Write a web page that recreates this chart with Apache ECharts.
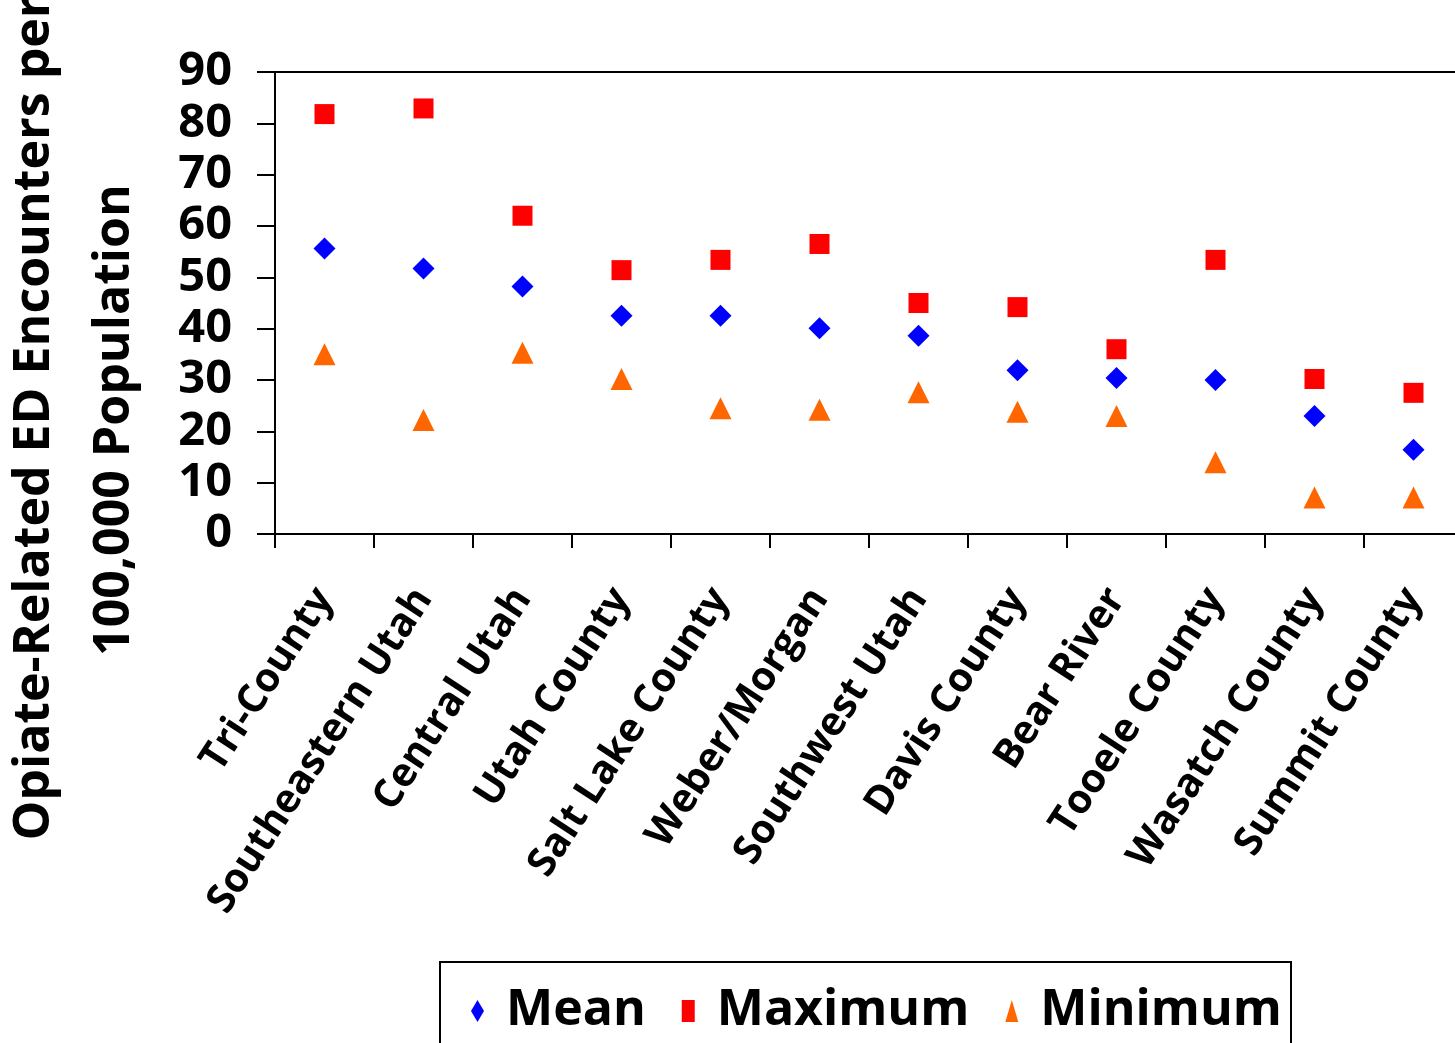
<!DOCTYPE html>
<html>
<head>
<meta charset="utf-8">
<script src="https://cdn.jsdelivr.net/npm/echarts@6/dist/echarts.min.js"></script>
<style>
    html, body { margin: 0; padding: 0; background: #ffffff; }
    #chart { width: 1455px; height: 1043px; }
</style>
</head>
<body>
<div id="chart"></div>
<script>
// 各地区数据
var regions = ['Tri-County', 'Southeastern Utah', 'Central Utah', 'Utah County', 'Salt Lake County',
    'Weber/Morgan', 'Southwest Utah', 'Davis County', 'Bear River', 'Tooele County',
    'Wasatch County', 'Summit County'];
var meanValues = [55.6, 51.7, 48.2, 42.5, 42.5, 40.1, 38.6, 31.9, 30.4, 30.0, 23.0, 16.4];
var maxValues = [81.8, 82.9, 62.0, 51.4, 53.4, 56.5, 45.0, 44.2, 36.0, 53.4, 30.2, 27.5];
var minValues = [35.0, 22.2, 35.3, 30.2, 24.5, 24.2, 27.6, 23.8, 23.0, 14.0, 7.1, 7.1];
var yTicks = [0, 10, 20, 30, 40, 50, 60, 70, 80, 90];

var FONT = '"Open Sans", "DejaVu Sans", sans-serif';
var chart = echarts.init(document.getElementById('chart'));

chart.setOption({
    backgroundColor: '#ffffff',
    animation: false,
    grid: {
        left: 275, top: 72, width: 1188, height: 462,
        outerBoundsMode: 'none', containLabel: false,
        show: true, borderColor: '#000', borderWidth: 2
    },
    xAxis: {
        type: 'category',
        data: regions,
        boundaryGap: true,
        axisLine: { lineStyle: { color: '#000', width: 2 } },
        axisTick: { show: true, length: 14, lineStyle: { color: '#000', width: 2 } },
        axisLabel: {
            rotate: 57, margin: 58, interval: 0,
            color: '#000', fontFamily: FONT, fontWeight: 'bold', fontSize: 40
        }
    },
    yAxis: {
        type: 'value',
        min: yTicks[0], max: yTicks[yTicks.length - 1], interval: 10,
        axisLine: { show: true, lineStyle: { color: '#000', width: 2 } },
        axisTick: { show: true, length: 18, lineStyle: { color: '#000', width: 2 } },
        splitLine: { show: false },
        axisLabel: {
            margin: 43, color: '#000', fontFamily: FONT, fontWeight: 'bold', fontSize: 47
        }
    },
    legend: {
        left: 471, top: 986, padding: 0,
        itemWidth: 13, itemHeight: 22, itemGap: 36,
        symbolKeepAspect: false,
        textStyle: { color: '#000', fontFamily: FONT, fontWeight: 'bold', fontSize: 50, padding: [0, 0, 0, 17] },
        data: ['Mean', 'Maximum', 'Minimum']
    },
    graphic: [
        {
            type: 'rect', shape: { x: 440, y: 962, width: 851, height: 100 },
            style: { fill: 'none', stroke: '#000', lineWidth: 2 }, z: 0
        },
        {
            type: 'text', x: 35, y: 418, rotation: Math.PI / 2,
            style: {
                text: 'Opiate-Related ED Encounters per', fill: '#000',
                font: 'bold 50px ' + FONT, align: 'center', verticalAlign: 'middle',
                textAlign: 'center', textVerticalAlign: 'middle'
            }
        },
        {
            type: 'text', x: 115, y: 420, rotation: Math.PI / 2,
            style: {
                text: '100,000 Population', fill: '#000',
                font: 'bold 50px ' + FONT, align: 'center', verticalAlign: 'middle',
                textAlign: 'center', textVerticalAlign: 'middle'
            }
        }
    ],
    series: [
        {
            name: 'Mean', type: 'scatter', data: meanValues,
            symbol: 'diamond', symbolSize: 22,
            itemStyle: { color: '#0000ff', opacity: 1 }
        },
        {
            name: 'Maximum', type: 'scatter', data: maxValues,
            symbol: 'rect', symbolSize: 20,
            itemStyle: { color: '#ff0000', opacity: 1 }
        },
        {
            name: 'Minimum', type: 'scatter', data: minValues,
            symbol: 'triangle', symbolSize: 22,
            itemStyle: { color: '#ff6600', opacity: 1 }
        }
    ]
});
</script>
</body>
</html>
